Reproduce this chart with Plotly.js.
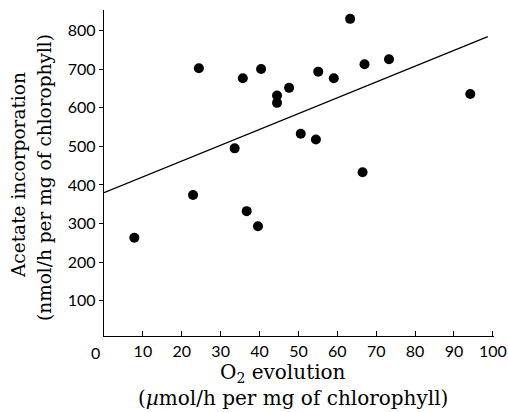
<!DOCTYPE html>
<html>
<head>
<meta charset="utf-8">
<script src="https://cdn.plot.ly/plotly-3.0.1.min.js"></script>
<style>html,body{margin:0;padding:0;background:#fff;}#chart{width:508px;height:412px;}</style>
</head>
<body>
<div id="chart"></div>
<script>
// O2 evolution (µmol/h per mg chlorophyll)
const o2Evolution = [7.8, 22.9, 24.4, 33.6, 35.7, 36.7, 39.6, 40.4, 44.5, 44.5, 47.6, 50.6, 54.5, 55.1, 59.1, 63.3, 66.5, 67.0, 73.3, 94.2];
// Acetate incorporation (nmol/h per mg chlorophyll)
const acetateIncorp = [263, 374, 703, 495, 677, 332, 293, 701, 632, 613, 652, 533, 518, 694, 677, 831, 433, 713, 726, 636];
// Regression line end points
const fitX = [0, 98.7];
const fitY = [380, 785];
const xTicks = [10, 20, 30, 40, 50, 60, 70, 80, 90, 100];
const yTicks = [100, 200, 300, 400, 500, 600, 700, 800];

const tickFont = {family: 'Lato, "DejaVu Sans", sans-serif', size: 16, color: '#000'};
const xTitleFont = {family: '"DejaVu Serif", "Liberation Serif", serif', size: 20, color: '#000'};
const yTitleFont = {family: '"DejaVu Serif", "Liberation Serif", serif', size: 18.5, color: '#000'};

const data = [
  {x: fitX, y: fitY, mode: 'lines', line: {color: '#000', width: 1.3}, hoverinfo: 'skip', showlegend: false},
  {x: o2Evolution, y: acetateIncorp, mode: 'markers', marker: {color: '#000', size: 10}, showlegend: false}
];

const layout = {
  width: 508, height: 412,
  margin: {l: 104, r: 14, t: 10, b: 76},
  paper_bgcolor: '#fff', plot_bgcolor: '#fff',
  showlegend: false,
  xaxis: {
    range: [0, 100.3], tickvals: xTicks, ticktext: xTicks.map(String),
    ticks: 'inside', ticklen: 5, tickwidth: 1, tickcolor: '#000',
    showline: true, linecolor: '#000', linewidth: 1.3,
    showgrid: false, zeroline: false, tickfont: tickFont
  },
  yaxis: {
    range: [8, 854], tickvals: yTicks, ticktext: yTicks.map(String),
    ticks: 'outside', ticklen: 4, tickwidth: 1, tickcolor: '#000',
    showline: true, linecolor: '#000', linewidth: 1.3,
    showgrid: false, zeroline: false, tickfont: tickFont
  },
  annotations: [
    {text: '0', xref: 'paper', yref: 'paper', x: (95-104)/390, y: -(352-336)/326, xanchor: 'center', yanchor: 'middle', showarrow: false, font: tickFont},
    {text: 'O<sub>2</sub> evolution', xref: 'paper', yref: 'paper', x: (283-104)/390, y: -(373-336)/326, xanchor: 'center', yanchor: 'middle', showarrow: false, font: xTitleFont},
    {text: '(<i>µ</i>mol/h per mg of chlorophyll)', xref: 'paper', yref: 'paper', x: (293-104)/390, y: -(398-336)/326, xanchor: 'center', yanchor: 'middle', showarrow: false, font: xTitleFont},
    {text: 'Acetate incorporation', xref: 'paper', yref: 'paper', x: -(104-18)/390, y: (336-175)/326, xanchor: 'center', yanchor: 'middle', textangle: -90, showarrow: false, font: yTitleFont},
    {text: '(nmol/h per mg of chlorophyll)', xref: 'paper', yref: 'paper', x: -(104-44)/390, y: (336-178)/326, xanchor: 'center', yanchor: 'middle', textangle: -90, showarrow: false, font: yTitleFont}
  ]
};

Plotly.newPlot('chart', data, layout, {displayModeBar: false, staticPlot: true});
</script>
</body>
</html>
